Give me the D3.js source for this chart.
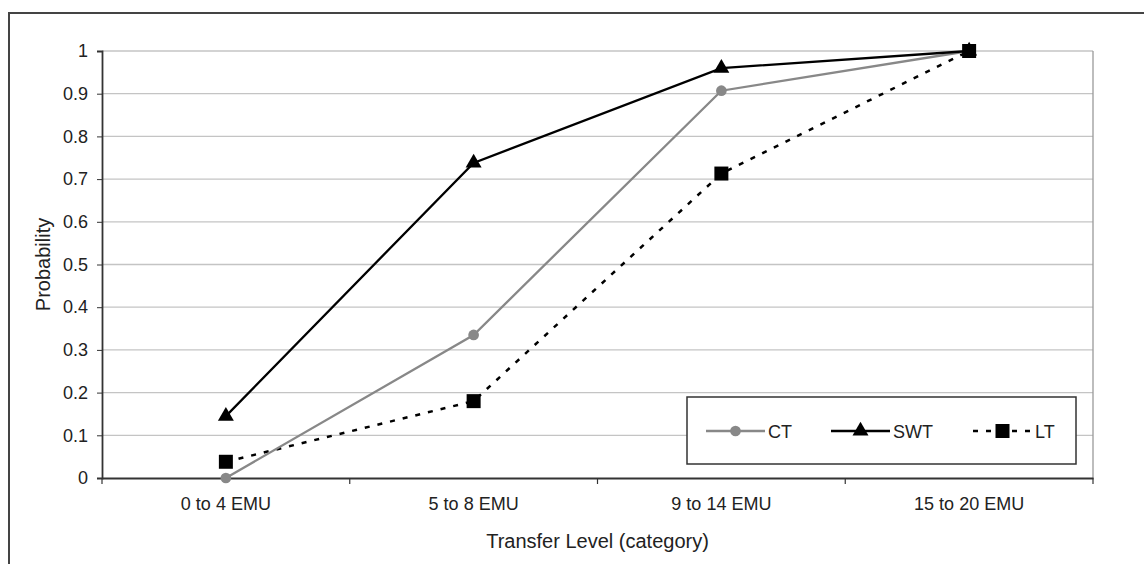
<!DOCTYPE html>
<html><head><meta charset="utf-8">
<script src="https://cdn.jsdelivr.net/npm/d3@7"></script>
<style>body{margin:0;background:#fff}svg{display:block}text{font-family:"Liberation Sans",Arial,sans-serif}</style>
</head><body><svg id="c" width="1144" height="564"></svg>
<script>
const categories = ["0 to 4 EMU", "5 to 8 EMU", "9 to 14 EMU", "15 to 20 EMU"];
const ctValues  = [0.0, 0.335, 0.907, 1.0];
const swtValues = [0.145, 0.738, 0.960, 1.0];
const ltValues  = [0.038, 0.180, 0.713, 1.0];
const yTicks = [0, 0.1, 0.2, 0.3, 0.4, 0.5, 0.6, 0.7, 0.8, 0.9, 1];
const seriesNames = ["CT", "SWT", "LT"];

const svg = d3.select("#c");
const L = 102, R = 1093, T = 51, B = 478;
const x = d3.scaleBand().domain(categories).range([L, R]);
const y = d3.scaleLinear().domain([0, 1]).range([B, T]);

// outer border
svg.append("rect").attr("x", 9).attr("y", 13).attr("width", 1150).attr("height", 600)
  .attr("fill", "#fff").attr("stroke", "#444").attr("stroke-width", 2);

// gridlines
svg.append("g").selectAll("line").data(yTicks.filter(d => d > 0)).join("line")
  .attr("x1", L).attr("x2", R).attr("y1", d => y(d)).attr("y2", d => y(d))
  .attr("stroke", "#c4c4c4").attr("stroke-width", 1.3);
// plot right border
svg.append("line").attr("x1", R).attr("x2", R).attr("y1", T).attr("y2", B)
  .attr("stroke", "#9a9a9a").attr("stroke-width", 1.3);

// y axis
const yAxis = d3.axisLeft(y).tickValues(yTicks).tickSize(5).tickPadding(9)
  .tickFormat(d => d3.format("~g")(d));
const gy = svg.append("g").attr("transform", `translate(${L},0)`).call(yAxis);
gy.select(".domain").attr("stroke", "#333").attr("stroke-width", 1.8);
gy.selectAll(".tick line").attr("stroke", "#333");
gy.selectAll("text").attr("font-size", 18).attr("fill", "#222").attr("font-family", "Liberation Sans");

// x axis
const xAxis = d3.axisBottom(x).tickSize(0).tickPadding(19);
const gx = svg.append("g").attr("transform", `translate(0,${B})`).call(xAxis);
gx.select(".domain").attr("stroke", "#333").attr("stroke-width", 1.8);
gx.selectAll("text").attr("font-size", 18).attr("fill", "#222").attr("font-family", "Liberation Sans");
// x ticks at band boundaries
const bounds = categories.map(c => x(c)).concat([R]);
svg.append("g").selectAll("line").data(bounds).join("line")
  .attr("x1", d => d).attr("x2", d => d).attr("y1", B).attr("y2", B + 6)
  .attr("stroke", "#333").attr("stroke-width", 1.2);

// titles
svg.append("text").attr("x", (L + R) / 2).attr("y", 548).attr("text-anchor", "middle")
  .attr("font-size", 20).attr("fill", "#222").text("Transfer Level (category)");
svg.append("text").attr("transform", `translate(50,${(T + B) / 2}) rotate(-90)`)
  .attr("text-anchor", "middle").attr("font-size", 20).attr("fill", "#222").text("Probability");

const cx = c => x(c) + x.bandwidth() / 2;
const line = vals => d3.line().x((d, i) => cx(categories[i])).y(d => y(d))(vals);

// LT
svg.append("path").attr("d", line(ltValues)).attr("fill", "none").attr("stroke", "#000")
  .attr("stroke-width", 2.5).attr("stroke-dasharray", "5,8");
// CT
svg.append("path").attr("d", line(ctValues)).attr("fill", "none").attr("stroke", "#888")
  .attr("stroke-width", 2.3);
// SWT
svg.append("path").attr("d", line(swtValues)).attr("fill", "none").attr("stroke", "#000")
  .attr("stroke-width", 2.3);

const sq = d3.symbol().type(d3.symbolSquare).size(196);
const tri = d3.symbol().type(d3.symbolTriangle).size(110);
const circ = d3.symbol().type(d3.symbolCircle).size(90);

svg.append("g").selectAll("path").data(ctValues).join("path")
  .attr("d", circ).attr("fill", "#888")
  .attr("transform", (d, i) => `translate(${cx(categories[i])},${y(d)})`);
svg.append("g").selectAll("path").data(swtValues).join("path")
  .attr("d", tri).attr("fill", "#000")
  .attr("transform", (d, i) => `translate(${cx(categories[i])},${y(d)})`);
svg.append("g").selectAll("path").data(ltValues).join("path")
  .attr("d", sq).attr("fill", "#000")
  .attr("transform", (d, i) => `translate(${cx(categories[i])},${y(d)})`);

// legend
const lg = svg.append("g");
lg.append("rect").attr("x", 687).attr("y", 397).attr("width", 389).attr("height", 67)
  .attr("fill", "#fff").attr("stroke", "#333").attr("stroke-width", 1.5);
const ly = 431;
const items = [
  {name: seriesNames[0], x0: 706, color: "#888", dash: null, sym: circ},
  {name: seriesNames[1], x0: 831, color: "#000", dash: null, sym: tri},
  {name: seriesNames[2], x0: 973, color: "#000", dash: "5,8", sym: sq}
];
items.forEach(it => {
  lg.append("line").attr("x1", it.x0).attr("x2", it.x0 + 59).attr("y1", ly).attr("y2", ly)
    .attr("stroke", it.color).attr("stroke-width", 2.3).attr("stroke-dasharray", it.dash);
  lg.append("path").attr("d", it.sym).attr("fill", it.color)
    .attr("transform", `translate(${it.x0 + 29.5},${ly})`);
  lg.append("text").attr("x", it.x0 + 62).attr("y", ly + 6.5).attr("font-size", 18)
    .attr("fill", "#222").text(it.name);
});
</script></body></html>
